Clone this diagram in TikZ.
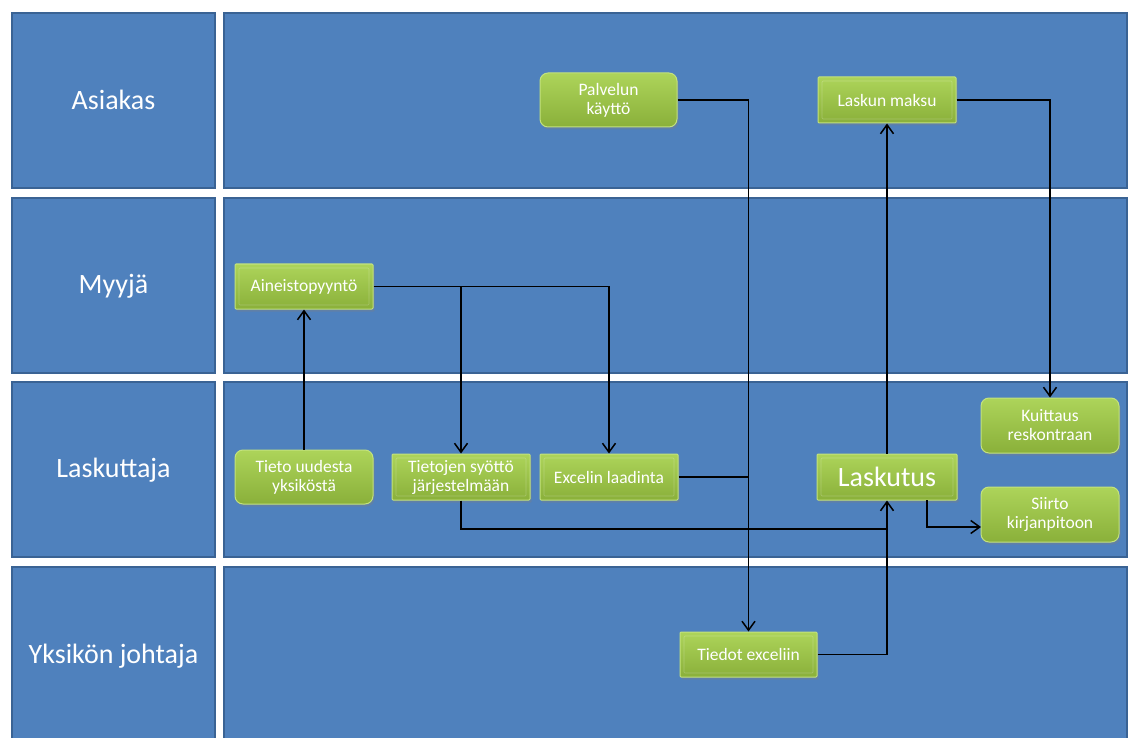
\documentclass[tikz,border=0pt]{standalone}
\usepackage{fontspec}
\setmainfont{Carlito}
\usetikzlibrary{arrows.meta,shadows}
\definecolor{lanefill}{HTML}{4F81BD}
\definecolor{laneborder}{HTML}{3A6394}
\definecolor{gtop}{HTML}{ADD45A}
\definecolor{gbot}{HTML}{8AB03A}
\definecolor{gedge}{HTML}{C3E27E}
\begin{document}
\begin{tikzpicture}[x=1pt,y=-1pt,
  lane/.style={draw=laneborder,fill=lanefill,line width=2.5pt},
  lanelabel/.style={text=white,font=\fontsize{28}{32}\selectfont,inner sep=0pt},
  gbox/.style={draw=gedge,line width=1pt,top color=gtop,bottom color=gbot,
    text=white,align=center,inner sep=2pt,
    font=\fontsize{17.5}{19}\selectfont,
    drop shadow={opacity=0.35,shadow xshift=1.5pt,shadow yshift=-2.5pt}},
  bevel/.style={gbox,rounded corners=1pt,
    path picture={\draw[white,opacity=0.22,line width=0.7pt]
      ([shift={(4pt,-4pt)}]path picture bounding box.north west) rectangle
      ([shift={(-4pt,4pt)}]path picture bounding box.south east);}},
  rbox/.style={gbox,rounded corners=8pt},
  flow/.style={draw=black,line width=1.6pt},
  arr/.style={flow,-{Straight Barb[length=9pt,width=13pt,line width=1.5pt]}}
]
\useasboundingbox (0,0) rectangle (1130,738);
\fill[white] (0,0) rectangle (1130,738);
\begin{scope}
\clip (0,0) rectangle (1130,738);
% lanes
\path[lane] (12,13) rectangle (215,188);
\path[lane] (224,13) rectangle (1127,188);
\path[lane] (12,198) rectangle (215,373);
\path[lane] (224,198) rectangle (1127,373);
\path[lane] (12,382) rectangle (215,557);
\path[lane] (224,382) rectangle (1127,557);
\path[lane] (12,567) rectangle (215,760);
\path[lane] (224,567) rectangle (1127,760);
\end{scope}
\node[lanelabel] (l1) at (113.5,100) {Asiakas};
\node[lanelabel] (l2) at (113.5,286) {Myyjä};
\node[lanelabel] (l3) at (113.5,470) {Laskuttaja};
\node[lanelabel] (l4) at (113.5,656) {Yksikön johtaja};

% process boxes
\node[rbox,minimum width=137pt,minimum height=54pt] (palv) at (608.5,100) {Palvelun\\käyttö};
\node[bevel,minimum width=138pt,minimum height=46pt] (maksu) at (887,100) {Laskun maksu};
\node[bevel,minimum width=138pt,minimum height=45pt] (ain) at (304,286.5) {Aineistopyyntö};
\node[rbox,minimum width=138pt,minimum height=54pt] (tieto) at (304,477) {Tieto uudesta\\yksiköstä};
\node[bevel,minimum width=138pt,minimum height=46pt] (syotto) at (461,477) {Tietojen syöttö\\järjestelmään};
\node[bevel,minimum width=138pt,minimum height=46pt] (excel) at (609,477) {Excelin laadinta};
\node[bevel,minimum width=140pt,minimum height=46pt,font=\fontsize{28}{30}\selectfont] (lask) at (887,477) {Laskutus};
\node[rbox,minimum width=138pt,minimum height=55pt] (kuit) at (1050,425.5) {Kuittaus\\reskontraan};
\node[rbox,minimum width=138pt,minimum height=55pt] (siirto) at (1050,514.5) {Siirto\\kirjanpitoon};
\node[bevel,minimum width=137pt,minimum height=45pt] (tiedot) at (748.5,654.5) {Tiedot exceliin};

% helper coordinates
\coordinate (j1) at (887,529);
\coordinate (s1) at (927,500);
\coordinate (s2) at (927,527);
\coordinate (s3) at (981,527);

% connectors
\draw[arr] (palv.east) -| (tiedot.north);
\draw[arr] (maksu.east) -| (kuit.north);
\draw[arr] (ain.east) -| (excel.north);
\draw[arr] (ain.east -| syotto.north) -- (syotto.north);
\draw[arr] (tieto.north) -- (ain.south);
\draw[flow] (excel.east) -- (excel.east -| tiedot.north);
\draw[flow] (syotto.south) |- (j1);
\draw[arr] (tiedot.east) -| (lask.south);
\draw[arr] (lask.north) -- (maksu.south);
\draw[arr] (s1) -- (s2) -- (s3);
\end{tikzpicture}
\end{document}
